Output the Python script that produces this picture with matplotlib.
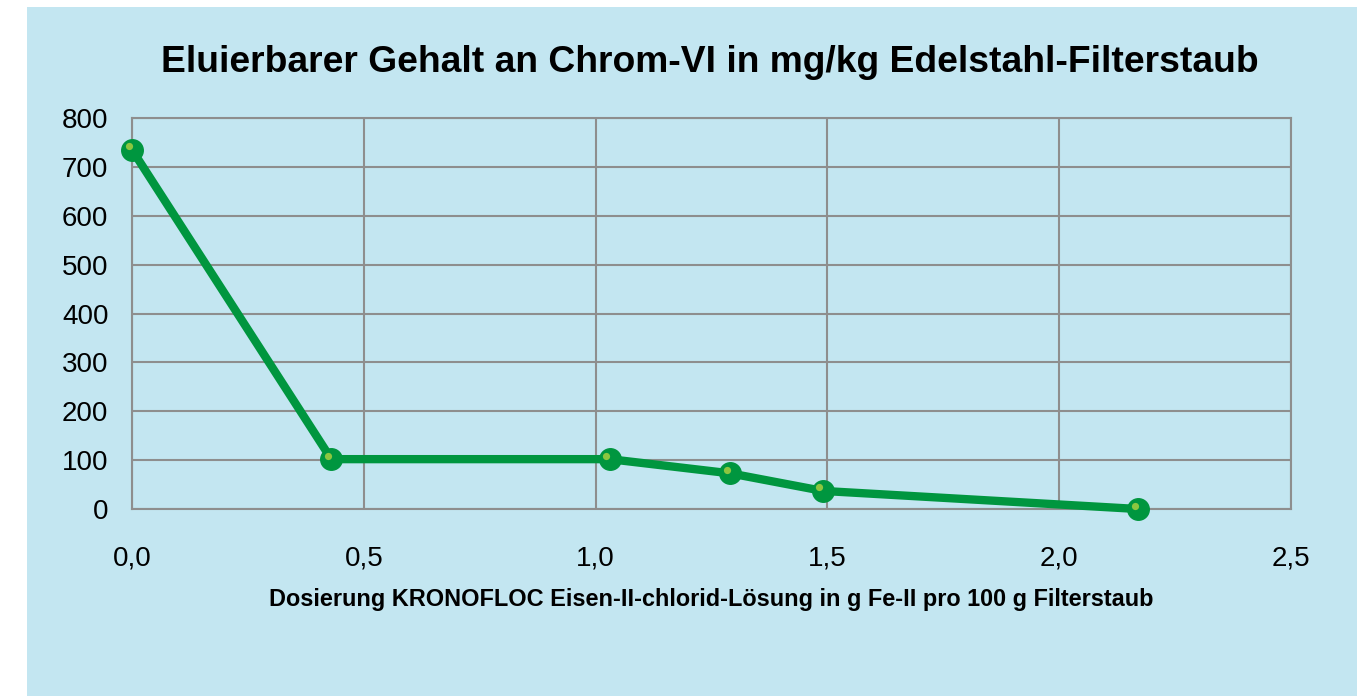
import matplotlib
matplotlib.use("Agg")
import matplotlib.pyplot as plt
from matplotlib.patches import Rectangle
from matplotlib.transforms import offset_copy

dosage = [0.0, 0.43, 1.03, 1.29, 1.49, 2.17]
chrom6 = [735, 102, 102, 73, 37, 0]
xticks = [0.0, 0.5, 1.0, 1.5, 2.0, 2.5]
xticklabels = ["0,0", "0,5", "1,0", "1,5", "2,0", "2,5"]
yticks = [0, 100, 200, 300, 400, 500, 600, 700, 800]

title = "Eluierbarer Gehalt an Chrom-VI in mg/kg Edelstahl-Filterstaub"
xlabel = "Dosierung KRONOFLOC Eisen-II-chlorid-Lösung in g Fe-II pro 100 g Filterstaub"

plt.rcParams['font.family'] = ['Liberation Sans', 'DejaVu Sans']

W, H = 1368, 696
fig = plt.figure(figsize=(W / 100, H / 100), dpi=100)
fig.patch.set_facecolor("white")
bg = "#C3E6F1"
fig.patches.append(Rectangle((27 / W, 0), (1357 - 27) / W, (H - 7) / H,
                             transform=fig.transFigure, facecolor=bg,
                             edgecolor="none", zorder=-1))

left, right, top, bottom = 132, 1291, 118, 509
ax = fig.add_axes([left / W, 1 - bottom / H, (right - left) / W, (bottom - top) / H])
ax.set_zorder(2)
ax.set_facecolor(bg)
ax.set_xlim(0, 2.5)
ax.set_ylim(0, 800)
ax.set_xticks(xticks)
ax.set_xticklabels(xticklabels)
ax.set_yticks(yticks)
grid_c = "#8E8E8E"
ax.grid(True, color=grid_c, linewidth=1.5)
ax.set_axisbelow(True)
for s in ax.spines.values():
    s.set_color(grid_c)
    s.set_linewidth(1.5)
ax.tick_params(length=0, labelsize=20)
ax.tick_params(axis='x', pad=26)
ax.tick_params(axis='y', pad=17)

green = "#00963F"
ax.plot(dosage, chrom6, color=green, linewidth=6, marker='o', markersize=15.5,
        markerfacecolor=green, markeredgecolor=green, clip_on=False, zorder=3,
        solid_capstyle='round', solid_joinstyle='round')
tr = offset_copy(ax.transData, fig=fig, x=-3.5, y=3.5, units='dots')
ax.plot(dosage, chrom6, linestyle='none', marker='o', markersize=5.2,
        markerfacecolor="#8DC63F", markeredgecolor="none", transform=tr,
        clip_on=False, zorder=4)

fig.text(710 / W, 1 - 72 / H, title, ha='center', va='baseline',
         fontsize=26.8, fontweight='bold')
fig.text(711 / W, 1 - 606 / H, xlabel, ha='center', va='baseline',
         fontsize=16.9, fontweight='bold')

fig.savefig("out.png", dpi=100, facecolor=fig.get_facecolor())
